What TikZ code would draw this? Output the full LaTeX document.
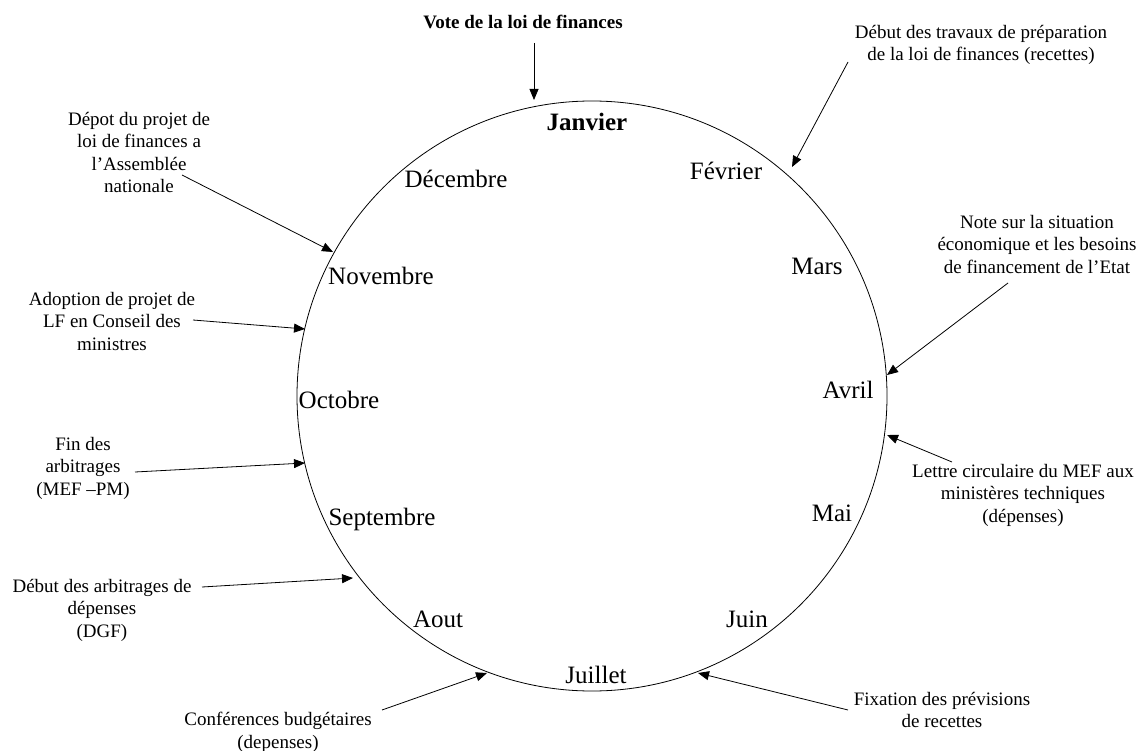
\documentclass[tikz,border=0pt]{standalone}
\usepackage{fontspec}
\setmainfont{Liberation Serif}
\usetikzlibrary{arrows.meta}
\begin{document}
\begin{tikzpicture}[x=1pt,y=-1pt,
  lbl/.style={font=\fontsize{19}{22.5}\selectfont, align=center, inner sep=0pt, anchor=north},
  month/.style={font=\fontsize{25}{30}\selectfont, inner sep=0pt, anchor=base},
  arr/.style={-{Triangle[length=11pt,width=9pt]}, line width=0.8pt}]
\useasboundingbox (0,0) rectangle (1140,751);
\node[draw, circle, minimum size=590pt, inner sep=0pt, line width=0.8pt] (circ) at (592,396) {};
% months
\node[month, font=\fontsize{25}{30}\selectfont\bfseries] (jan) at (587,131) {Janvier};
\node[month] (feb) at (726,180) {Février};
\node[month] (mar) at (817,275) {Mars};
\node[month] (apr) at (848,398) {Avril};
\node[month] (may) at (832,521) {Mai};
\node[month] (jun) at (747,627) {Juin};
\node[month] (jul) at (596,683) {Juillet};
\node[month] (aug) at (438,627) {Aout};
\node[month] (sep) at (382,525) {Septembre};
\node[month] (oct) at (339,408) {Octobre};
\node[month] (nov) at (381,285) {Novembre};
\node[month] (dec) at (456,188) {Décembre};
% labels
\node[lbl, anchor=base, font=\fontsize{19}{22.5}\selectfont\bfseries] (vote) at (523,29) {Vote de la loi de finances};
\node[lbl] (travaux) at (981,25) {Début des travaux de préparation\\de la loi de finances (recettes)};
\node[lbl] (note) at (1037,215) {Note sur la situation\\économique et les besoins\\de financement de l’Etat};
\node[lbl] (lettre) at (1023,464) {Lettre circulaire du MEF aux\\ministères techniques\\(dépenses)};
\node[lbl] (fixation) at (942,692) {Fixation des prévisions\\de recettes};
\node[lbl] (conf) at (278,712) {Conférences budgétaires\\(depenses)};
\node[lbl] (arbit) at (102,579) {Début des arbitrages de\\dépenses\\(DGF)};
\node[lbl] (fin) at (83,437) {Fin des\\arbitrages\\(MEF –PM)};
\node[lbl] (adopt) at (112,292) {Adoption de projet de\\LF en Conseil des\\ministres};
\node[lbl] (depot) at (139,112) {Dépot du projet de\\loi de finances a\\l’Assemblée\\nationale};
% arrow ends
\coordinate (voteT) at (534,43);   \coordinate (voteH) at (534,100);
\coordinate (travT) at (848,62);   \coordinate (travH) at (792,167);
\coordinate (noteT) at (1008,283); \coordinate (noteH) at (887,375);
\coordinate (lettT) at (952,462);  \coordinate (lettH) at (887,435);
\coordinate (fixT) at (848,710);   \coordinate (fixH) at (698,673);
\coordinate (confT) at (382,710);  \coordinate (confH) at (487,673);
\coordinate (arbT) at (202,587);   \coordinate (arbH) at (353,578);
\coordinate (finT) at (135,472);   \coordinate (finH) at (305,463);
\coordinate (adT) at (193,320);    \coordinate (adH) at (305,329);
\coordinate (depT) at (182,175);   \coordinate (depH) at (333,252);
\draw[arr] (voteT) -- (voteH);
\draw[arr] (travT) -- (travH);
\draw[arr] (noteT) -- (noteH);
\draw[arr] (lettT) -- (lettH);
\draw[arr] (fixT) -- (fixH);
\draw[arr] (confT) -- (confH);
\draw[arr] (arbT) -- (arbH);
\draw[arr] (finT) -- (finH);
\draw[arr] (adT) -- (adH);
\draw[arr] (depT) -- (depH);
\end{tikzpicture}
\end{document}
